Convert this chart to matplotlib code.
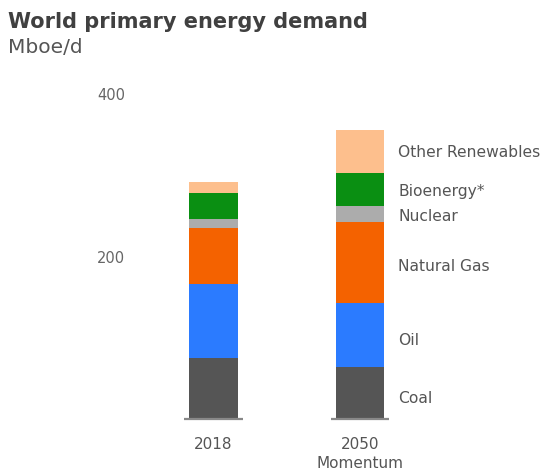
import matplotlib
matplotlib.use("Agg")
import matplotlib.pyplot as plt
import numpy as np

plt.rcParams['font.family'] = ['DejaVu Sans']

categories = ["2018", "2050\nMomentum"]
sources = ["Coal", "Oil", "Natural Gas", "Nuclear", "Bioenergy*", "Other Renewables"]
coal = [75, 64]
oil = [91, 78]
natural_gas = [68, 100]
nuclear = [12, 19]
bioenergy = [31, 41]
other_renewables = [14, 53]
yticks = [200, 400]

series = [coal, oil, natural_gas, nuclear, bioenergy, other_renewables]
colors = ["#555555", "#2b7bff", "#f46200", "#acacac", "#0a8f12", "#fdbf8d"]
label_nudge = [-6, -5, -4, -2, -1, 0]

W, H = 546, 477
fig = plt.figure(figsize=(W / 100, H / 100), dpi=100)

zero_px = 420.0
px_per_unit = (420.0 - 94.3) / 400.0
top_px = 80.0
x0_px, dx_px = 213.4, 146.6
left_px, right_px = 128.0, 546.0

ax = fig.add_axes([left_px / W, 1 - zero_px / H, (right_px - left_px) / W, (zero_px - top_px) / H])
ax.set_ylim(0, (zero_px - top_px) / px_per_unit)
ax.set_xlim((left_px - x0_px) / dx_px, (right_px - x0_px) / dx_px)

x = np.arange(len(categories))
bottom = np.zeros(len(categories))
for vals, col in zip(series, colors):
    ax.bar(x, vals, width=0.33, bottom=bottom, color=col, edgecolor="none", zorder=2)
    bottom += np.array(vals)

for xi in x:
    ax.plot([xi - 0.2, xi + 0.2], [0, 0], color="#888888", lw=1.6, zorder=3,
            solid_capstyle="butt", clip_on=False)

vals50 = np.array([s[1] for s in series])
mids = np.cumsum(vals50) - vals50 / 2
for name, m, nd in zip(sources, mids, label_nudge):
    ax.text(1 + 0.26, m + nd, name, va="center", ha="left", fontsize=11.2, color="#555555")

for s in ax.spines.values():
    s.set_visible(False)
ax.set_yticks(yticks)
ax.set_yticklabels([str(v) for v in yticks], fontsize=10.5, color="#666666")
ax.tick_params(axis="y", length=0, pad=2)
ax.set_xticks(x)
ax.set_xticklabels(categories, fontsize=11, color="#555555", linespacing=1.4)
ax.tick_params(axis="x", length=0, pad=12)

fig.text(8 / W, 1 - 28 / H, "World primary energy demand", fontsize=15, fontweight="bold",
         color="#404040", ha="left", va="baseline")
fig.text(8 / W, 1 - 53 / H, "Mboe/d", fontsize=14.5, color="#555555", ha="left", va="baseline")

fig.savefig("out.png", dpi=100, facecolor="white")
